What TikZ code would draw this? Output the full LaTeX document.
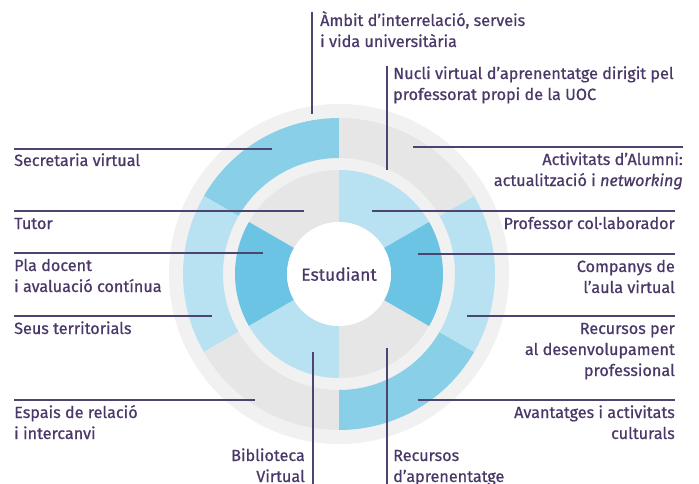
\documentclass[tikz,border=0pt]{standalone}
\usepackage{fontspec}
\setmainfont{Fira Sans}[FakeBold=0.6]
\usetikzlibrary{calc}
\definecolor{txt}{HTML}{4A3868}
\definecolor{ln}{HTML}{4E4470}
\definecolor{bmid}{HTML}{89CFE8}
\definecolor{bdark}{HTML}{6CC4E4}
\definecolor{blight}{HTML}{B8E2F1}
\definecolor{gry}{HTML}{E6E6E7}
\definecolor{halo}{HTML}{F1F1F1}
\newcommand{\ringseg}[5]{\fill[#5] ($(C)+(#1:#4)$) arc[start angle=#1,end angle=#2,radius=#4] -- ($(C)+(#2:#3)$) arc[start angle=#2,end angle=#1,radius=#3] -- cycle;}
\newcommand{\lblL}[1]{\begin{tabular}[t]{@{}l@{}}#1\end{tabular}}
\newcommand{\lblR}[1]{\begin{tabular}[t]{@{}r@{}}#1\end{tabular}}
\begin{document}
\begin{tikzpicture}[x=1pt,y=1pt,
  lbl/.style={font=\fontsize{16.2}{21}\selectfont, text=txt, inner sep=0pt},
  lw/.style={lbl, anchor=base west},
  le/.style={lbl, anchor=base east},
  conn/.style={draw=ln, line width=1.3pt}]
\useasboundingbox (0,0) rectangle (699,-484);
\fill[white] (0,0) rectangle (699,-484);
\coordinate (C) at (339,-274);
% halo
\fill[halo] (C) circle[radius=170];
% outer ring
\ringseg{90}{150}{116}{156}{bmid}
\ringseg{150}{210}{116}{156}{blight}
\ringseg{210}{270}{116}{156}{gry}
\ringseg{270}{330}{116}{156}{bmid}
\ringseg{-30}{30}{116}{156}{blight}
\ringseg{30}{90}{116}{156}{gry}
% inner ring
\ringseg{30}{90}{52}{104}{blight}
\ringseg{90}{150}{52}{104}{gry}
\ringseg{150}{210}{52}{104}{bdark}
\ringseg{210}{270}{52}{104}{blight}
\ringseg{270}{330}{52}{104}{gry}
\ringseg{-30}{30}{52}{104}{bdark}
\fill[white] (C) circle[radius=52];
\node[font=\fontsize{17.5}{20}\selectfont, text=txt] (stu) at (C) {Estudiant};

% top labels
\node[lw] (ambit) at (320,-26) {\lblL{Àmbit d’interrelació, serveis\\ i vida universitària}};
\coordinate (ambitA) at (312,-12);
\coordinate (ambitB) at (312,-114);
\draw[conn] (ambitA) -- (ambitB);
\node[lw] (nucli) at (393,-79) {\lblL{Nucli virtual d’aprenentatge dirigit pel\\ professorat propi de la UOC}};
\coordinate (nucliA) at (387,-66);
\coordinate (nucliB) at (387,-170);
\draw[conn] (nucliA) -- (nucliB);

% left labels
\node[lw] (secr) at (14,-166) {Secretaria virtual};
\coordinate (secrA) at (14,-149); \coordinate (secrB) at (272,-149);
\draw[conn] (secrA) -- (secrB);
\node[lw] (tutor) at (14,-229) {Tutor};
\coordinate (tutorA) at (14,-211); \coordinate (tutorB) at (304,-211);
\draw[conn] (tutorA) -- (tutorB);
\node[lw] (pla) at (14,-271) {\lblL{Pla docent\\ i avaluació contínua}};
\coordinate (plaA) at (14,-253); \coordinate (plaB) at (263,-253);
\draw[conn] (plaA) -- (plaB);
\node[lw] (seus) at (14,-334) {Seus territorials};
\coordinate (seusA) at (14,-316); \coordinate (seusB) at (212,-316);
\draw[conn] (seusA) -- (seusB);
\node[lw] (espais) at (14,-418) {\lblL{Espais de relació\\ i intercanvi}};
\coordinate (espaisA) at (14,-400); \coordinate (espaisB) at (255,-400);
\draw[conn] (espaisA) -- (espaisB);

% right labels
\node[le] (alum) at (683,-165) {\lblR{Activitats d’Alumni:\\ actualització i \textit{networking}}};
\coordinate (alumA) at (683,-147); \coordinate (alumB) at (413,-147);
\draw[conn] (alumA) -- (alumB);
\node[le] (prof) at (675,-229) {Professor col·laborador};
\coordinate (profA) at (675,-211); \coordinate (profB) at (372,-211);
\draw[conn] (profA) -- (profB);
\node[le] (comp) at (675,-272) {\lblR{Companys de\\ l’aula virtual}};
\coordinate (compA) at (675,-254); \coordinate (compB) at (418,-254);
\draw[conn] (compA) -- (compB);
\node[le] (rper) at (675,-334) {\lblR{Recursos per\\ al desenvolupament\\ professional}};
\coordinate (rperA) at (675,-316); \coordinate (rperB) at (467,-316);
\draw[conn] (rperA) -- (rperB);
\node[le] (avan) at (675,-418) {\lblR{Avantatges i activitats\\ culturals}};
\coordinate (avanA) at (675,-400); \coordinate (avanB) at (418,-400);
\draw[conn] (avanA) -- (avanB);

% bottom labels
\node[le] (bibl) at (305,-461) {\lblR{Biblioteca\\ Virtual}};
\coordinate (biblA) at (313,-484); \coordinate (biblB) at (313,-352);
\draw[conn] (biblA) -- (biblB);
\node[lw] (recap) at (393,-461) {\lblL{Recursos\\ d’aprenentatge}};
\coordinate (recapA) at (387,-484); \coordinate (recapB) at (387,-348);
\draw[conn] (recapA) -- (recapB);
\end{tikzpicture}
\end{document}
